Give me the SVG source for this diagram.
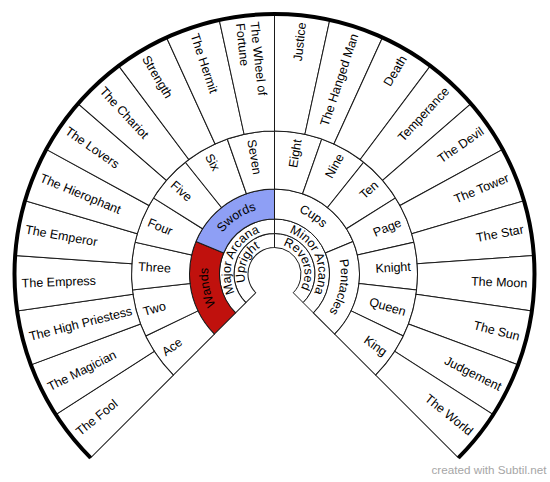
<svg xmlns="http://www.w3.org/2000/svg" width="550" height="482" viewBox="0 0 550 482">
<style>
.s{fill:#fff;stroke:#1a1a1a;stroke-width:1}
.w{fill:#c0110d}
.b{fill:#8e9ff5}
text{font-family:"Liberation Sans",Arial,sans-serif;font-size:12.5px;fill:#000}
.l{text-anchor:start}
.r{text-anchor:end}
.c{text-anchor:middle}
.wm{font-size:11.7px;fill:#a6a6a6;text-anchor:end}
</style>
<defs>
<path id="s1" d="M0,-26.5 L0,-40.5 A40.5,40.5 0 0 1 28.638,28.638 L18.738,18.738 A26.5,26.5 0 0 0 0,-26.5 Z"/>
<path id="s2" d="M0,-40.5 L0,-55 A55,55 0 0 1 38.891,38.891 L28.638,28.638 A40.5,40.5 0 0 0 0,-40.5 Z"/>
<path id="s3" d="M0,-55 L0,-85 A85,85 0 0 1 78.530,-32.528 L50.813,-21.048 A55,55 0 0 0 0,-55 Z"/>
<path id="s4" d="M0,-85 L0,-143 A143,143 0 0 1 47.230,-134.975 L28.074,-80.230 A85,85 0 0 0 0,-85 Z"/>
<path id="s5" d="M0,-143 L0,-260 A260,260 0 0 1 55.268,-254.059 L30.398,-139.732 A143,143 0 0 0 0,-143 Z"/>
<path id="a1" d="M-29.544,5.209 A30,30 0 1 1 29.544,5.209"/>
<path id="a2" d="M-43.332,7.641 A44,44 0 1 1 43.332,7.641"/>
<path id="a3" d="M-65.490,11.548 A66.5,66.5 0 1 1 65.490,11.548"/>
</defs>
<g transform="translate(274.5,274)">
<g id="upright"><use href="#s1" class="s" transform="rotate(225)"/><text class="c" transform="rotate(292.5)"><textPath href="#a1" startOffset="50%">Upright</textPath></text></g>
<g id="reversed"><use href="#s1" class="s" transform="rotate(0)"/><text class="c" transform="rotate(67.5)"><textPath href="#a1" startOffset="50%">Reversed</textPath></text></g>
<g id="major-arcana"><use href="#s2" class="s" transform="rotate(225)"/><text class="c" transform="rotate(292.5)"><textPath href="#a2" startOffset="50%">Major Arcana</textPath></text></g>
<g id="minor-arcana"><use href="#s2" class="s" transform="rotate(0)"/><text class="c" transform="rotate(67.5)"><textPath href="#a2" startOffset="50%">Minor Arcana</textPath></text></g>
<g id="wands"><use href="#s3" class="s w" transform="rotate(225)"/><text class="c" transform="rotate(258.75)"><textPath href="#a3" startOffset="50%">Wands</textPath></text></g>
<g id="swords"><use href="#s3" class="s b" transform="rotate(292.5)"/><text class="c" transform="rotate(326.25)"><textPath href="#a3" startOffset="50%">Swords</textPath></text></g>
<g id="cups"><use href="#s3" class="s" transform="rotate(0)"/><text class="c" transform="rotate(33.75)"><textPath href="#a3" startOffset="50%">Cups</textPath></text></g>
<g id="pentacles"><use href="#s3" class="s" transform="rotate(67.5)"/><text class="c" transform="rotate(101.25)"><textPath href="#a3" startOffset="50%">Pentacles</textPath></text></g>

<g id="ace"><use href="#s4" class="s" transform="rotate(225)"/><text class="l" transform="rotate(324.643)" x="-136.5" dy="0.35em">Ace</text></g>
<g id="two"><use href="#s4" class="s" transform="rotate(244.286)"/><text class="l" transform="rotate(343.929)" x="-136.5" dy="0.35em">Two</text></g>
<g id="three"><use href="#s4" class="s" transform="rotate(263.571)"/><text class="l" transform="rotate(3.214)" x="-136.5" dy="0.35em">Three</text></g>
<g id="four"><use href="#s4" class="s" transform="rotate(282.857)"/><text class="l" transform="rotate(22.5)" x="-136.5" dy="0.35em">Four</text></g>
<g id="five"><use href="#s4" class="s" transform="rotate(302.143)"/><text class="l" transform="rotate(41.786)" x="-136.5" dy="0.35em">Five</text></g>
<g id="six"><use href="#s4" class="s" transform="rotate(321.429)"/><text class="l" transform="rotate(61.071)" x="-136.5" dy="0.35em">Six</text></g>
<g id="seven"><use href="#s4" class="s" transform="rotate(340.714)"/><text class="l" transform="rotate(80.357)" x="-136.5" dy="0.35em">Seven</text></g>
<g id="eight"><use href="#s4" class="s" transform="rotate(0)"/><text class="r" transform="rotate(-80.357)" x="136.5" dy="0.35em">Eight</text></g>
<g id="nine"><use href="#s4" class="s" transform="rotate(19.286)"/><text class="r" transform="rotate(-61.071)" x="136.5" dy="0.35em">Nine</text></g>
<g id="ten"><use href="#s4" class="s" transform="rotate(38.571)"/><text class="r" transform="rotate(-41.786)" x="136.5" dy="0.35em">Ten</text></g>
<g id="page"><use href="#s4" class="s" transform="rotate(57.857)"/><text class="r" transform="rotate(-22.5)" x="136.5" dy="0.35em">Page</text></g>
<g id="knight"><use href="#s4" class="s" transform="rotate(77.143)"/><text class="r" transform="rotate(-3.214)" x="136.5" dy="0.35em">Knight</text></g>
<g id="queen"><use href="#s4" class="s" transform="rotate(96.429)"/><text class="r" transform="rotate(16.071)" x="136.5" dy="0.35em">Queen</text></g>
<g id="king"><use href="#s4" class="s" transform="rotate(115.714)"/><text class="r" transform="rotate(35.357)" x="136.5" dy="0.35em">King</text></g>

<g id="the-fool"><use href="#s5" class="s" transform="rotate(225)"/><text class="l" transform="rotate(321.136)" x="-253" dy="0.35em">The Fool</text></g>
<g id="the-magician"><use href="#s5" class="s" transform="rotate(237.273)"/><text class="l" transform="rotate(333.409)" x="-253" dy="0.35em">The Magician</text></g>
<g id="the-high-priestess"><use href="#s5" class="s" transform="rotate(249.545)"/><text class="l" transform="rotate(345.682)" x="-253" dy="0.35em">The High Priestess</text></g>
<g id="the-empress"><use href="#s5" class="s" transform="rotate(261.818)"/><text class="l" transform="rotate(357.955)" x="-253" dy="0.35em">The Empress</text></g>
<g id="the-emperor"><use href="#s5" class="s" transform="rotate(274.091)"/><text class="l" transform="rotate(10.227)" x="-253" dy="0.35em">The Emperor</text></g>
<g id="the-hierophant"><use href="#s5" class="s" transform="rotate(286.364)"/><text class="l" transform="rotate(22.5)" x="-253" dy="0.35em">The Hierophant</text></g>
<g id="the-lovers"><use href="#s5" class="s" transform="rotate(298.636)"/><text class="l" transform="rotate(34.773)" x="-253" dy="0.35em">The Lovers</text></g>
<g id="the-chariot"><use href="#s5" class="s" transform="rotate(310.909)"/><text class="l" transform="rotate(47.045)" x="-253" dy="0.35em">The Chariot</text></g>
<g id="strength"><use href="#s5" class="s" transform="rotate(323.182)"/><text class="l" transform="rotate(59.318)" x="-253" dy="0.35em">Strength</text></g>
<g id="the-hermit"><use href="#s5" class="s" transform="rotate(335.455)"/><text class="l" transform="rotate(71.591)" x="-253" dy="0.35em">The Hermit</text></g>
<g id="the-wheel-of-fortune"><use href="#s5" class="s" transform="rotate(347.727)"/><text class="l" transform="rotate(83.864)"><tspan x="-253" y="-7.25" dy="0.35em">The Wheel of</tspan><tspan x="-253" y="7.25" dy="0.35em">Fortune</tspan></text></g>
<g id="justice"><use href="#s5" class="s" transform="rotate(0)"/><text class="r" transform="rotate(-83.864)" x="253" dy="0.35em">Justice</text></g>
<g id="the-hanged-man"><use href="#s5" class="s" transform="rotate(12.273)"/><text class="r" transform="rotate(-71.591)" x="253" dy="0.35em">The Hanged Man</text></g>
<g id="death"><use href="#s5" class="s" transform="rotate(24.545)"/><text class="r" transform="rotate(-59.318)" x="253" dy="0.35em">Death</text></g>
<g id="temperance"><use href="#s5" class="s" transform="rotate(36.818)"/><text class="r" transform="rotate(-47.045)" x="253" dy="0.35em">Temperance</text></g>
<g id="the-devil"><use href="#s5" class="s" transform="rotate(49.091)"/><text class="r" transform="rotate(-34.773)" x="253" dy="0.35em">The Devil</text></g>
<g id="the-tower"><use href="#s5" class="s" transform="rotate(61.364)"/><text class="r" transform="rotate(-22.5)" x="253" dy="0.35em">The Tower</text></g>
<g id="the-star"><use href="#s5" class="s" transform="rotate(73.636)"/><text class="r" transform="rotate(-10.227)" x="253" dy="0.35em">The Star</text></g>
<g id="the-moon"><use href="#s5" class="s" transform="rotate(85.909)"/><text class="r" transform="rotate(2.045)" x="253" dy="0.35em">The Moon</text></g>
<g id="the-sun"><use href="#s5" class="s" transform="rotate(98.182)"/><text class="r" transform="rotate(14.318)" x="253" dy="0.35em">The Sun</text></g>
<g id="judgement"><use href="#s5" class="s" transform="rotate(110.455)"/><text class="r" transform="rotate(26.591)" x="253" dy="0.35em">Judgement</text></g>
<g id="the-world"><use href="#s5" class="s" transform="rotate(122.727)"/><text class="r" transform="rotate(38.864)" x="253" dy="0.35em">The World</text></g>

<g id="connectors">
<path id="rim" d="M-183.848,183.848 A260,260 0 1 1 183.848,183.848" fill="none" stroke="#000" stroke-width="4"/>
</g>
</g>
<text class="wm" x="546.5" y="474">created with Subtil.net</text>
</svg>
